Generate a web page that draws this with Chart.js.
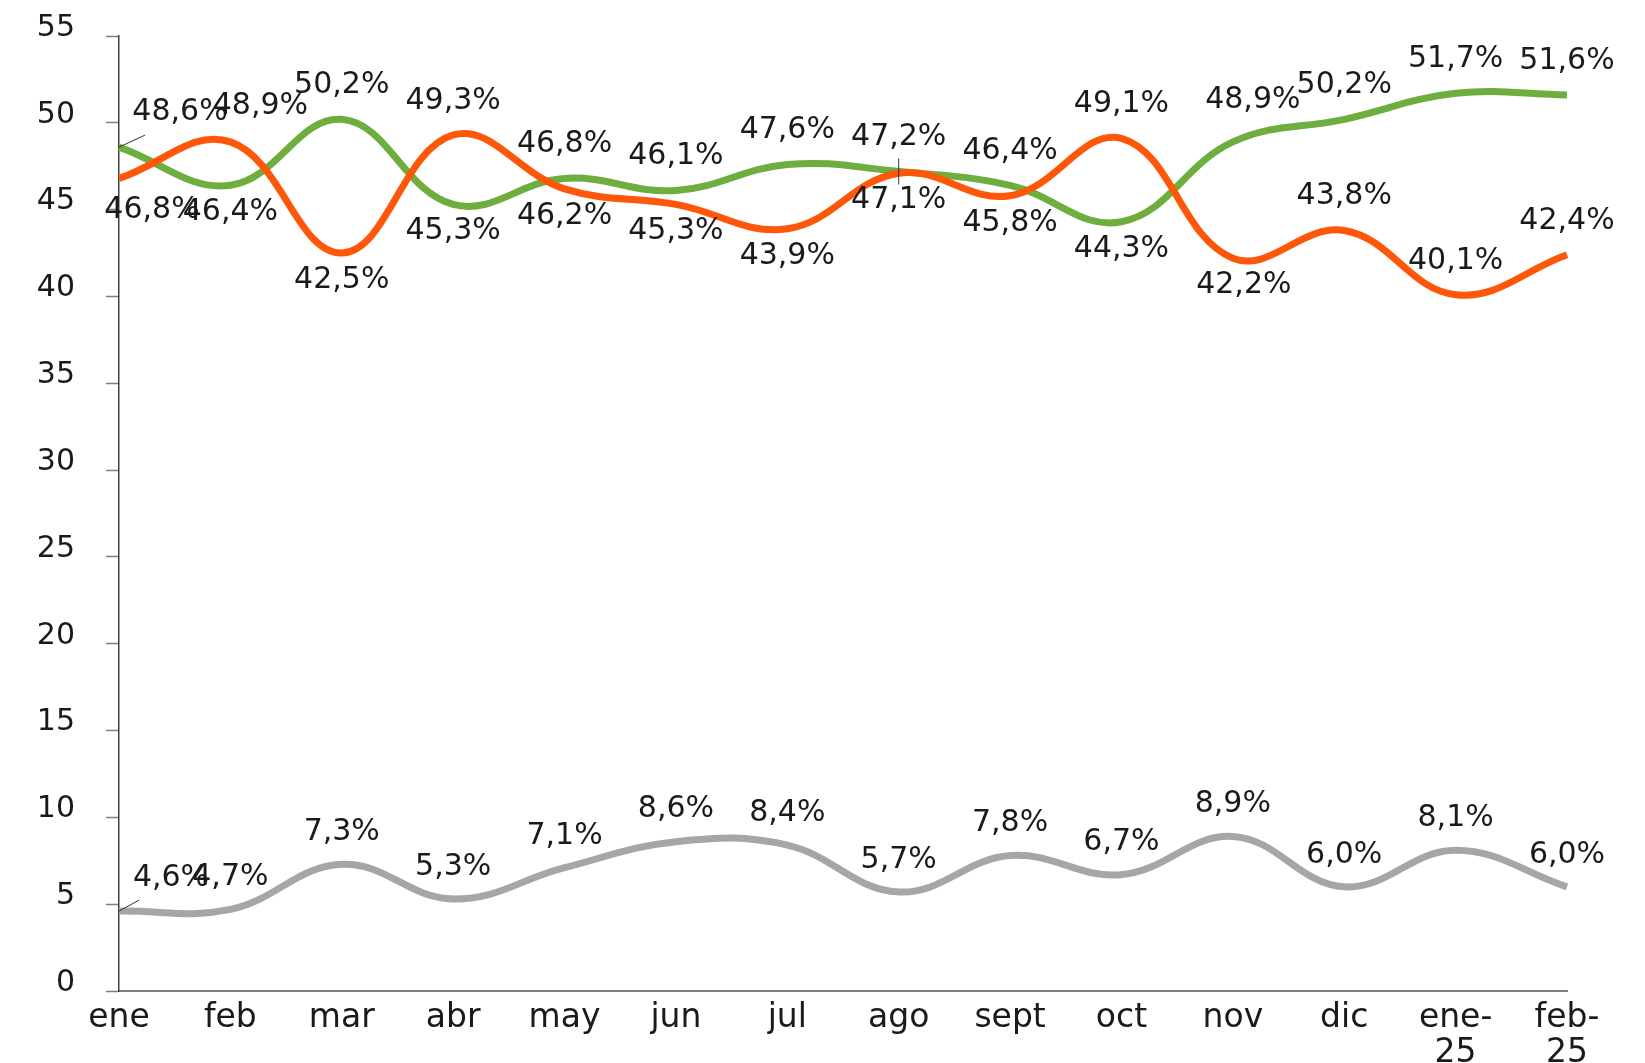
<!DOCTYPE html>
<html>
<head>
<meta charset="utf-8">
<script src="https://cdn.jsdelivr.net/npm/chart.js@4.4.1/dist/chart.umd.min.js"></script>
<style>
  html, body { margin: 0; padding: 0; background: #ffffff; }
  #wrap { width: 1645px; height: 1063px; }
</style>
</head>
<body>
<div id="wrap"><canvas id="c" width="1645" height="1063"></canvas></div>
<script>
// ---- data ----
const months = ['ene', 'feb', 'mar', 'abr', 'may', 'jun', 'jul', 'ago', 'sept', 'oct', 'nov', 'dic', ['ene-', '25'], ['feb-', '25']];
const greenSeries  = [48.6, 46.4, 50.2, 45.3, 46.8, 46.1, 47.6, 47.2, 46.4, 44.3, 48.9, 50.2, 51.7, 51.6];
const orangeSeries = [46.8, 48.9, 42.5, 49.3, 46.2, 45.3, 43.9, 47.1, 45.8, 49.1, 42.2, 43.8, 40.1, 42.4];
const graySeries   = [4.6, 4.7, 7.3, 5.3, 7.1, 8.6, 8.4, 5.7, 7.8, 6.7, 8.9, 6.0, 8.1, 6.0];
const yMin = 0, yMax = 55, yStep = 5;

// ---- label placement (style) ----
const UP = -34, DN = 27, GUP = -32;
const greenPlace  = [[61, -35], [0, DN], [0, UP], [0, DN], [0, UP], [0, UP], [0, UP], [0, UP], [0, UP], [0, DN], [20, -42], [0, UP], [0, UP], [0, UP]];
const orangePlace = [[33, 32], [30, -36], [0, DN], [0, UP], [0, DN], [0, DN], [0, DN], [0, DN], [0, DN], [0, UP], [11, DN], [0, UP], [0, UP], [0, UP]];
const grayPlace   = [[52, -33], [0, GUP], [0, GUP], [0, GUP], [0, GUP], [0, GUP], [0, GUP], [0, GUP], [0, GUP], [0, GUP], [0, GUP], [0, GUP], [0, GUP], [0, GUP]];

const FONT = '"DejaVu Sans", sans-serif';
const TEXT = '#1a1a1a';

function fmt(v) { return v.toFixed(1).replace('.', ',') + '%'; }

const labelPlugin = {
  id: 'valueLabels',
  afterDatasetsDraw(chart) {
    const ctx = chart.ctx;
    ctx.save();
    // leader lines
    ctx.strokeStyle = '#333333';
    ctx.lineWidth = 1;
    const g0 = chart.getDatasetMeta(1).data[0];
    ctx.beginPath(); ctx.moveTo(g0.x, g0.y); ctx.lineTo(g0.x + 26, g0.y - 12); ctx.stroke();
    const s0 = chart.getDatasetMeta(2).data[0];
    ctx.beginPath(); ctx.moveTo(s0.x, s0.y); ctx.lineTo(s0.x + 20, s0.y - 11); ctx.stroke();
    const ag = chart.getDatasetMeta(1).data[7];
    ctx.beginPath(); ctx.moveTo(ag.x, ag.y - 13); ctx.lineTo(ag.x, ag.y + 13); ctx.stroke();

    ctx.font = '30px ' + FONT;
    ctx.fillStyle = TEXT;
    ctx.textAlign = 'center';
    ctx.textBaseline = 'middle';
    chart.data.datasets.forEach((ds, di) => {
      const meta = chart.getDatasetMeta(di);
      meta.data.forEach((pt, i) => {
        const off = ds.labelPlace[i];
        ctx.fillText(fmt(ds.data[i]), pt.x + off[0], pt.y + off[1]);
      });
    });
    ctx.restore();
  }
};

new Chart(document.getElementById('c'), {
  type: 'line',
  data: {
    labels: months,
    datasets: [
      { label: 'orange', data: orangeSeries, borderColor: '#FE5709', labelPlace: orangePlace },
      { label: 'green', data: greenSeries, borderColor: '#6DAE3F', labelPlace: greenPlace },
      { label: 'gray', data: graySeries, borderColor: '#A6A6A6', labelPlace: grayPlace }
    ]
  },
  options: {
    responsive: false,
    devicePixelRatio: 1,
    animation: false,
    layout: { padding: { top: 36, right: 78, left: 0, bottom: 0 } },
    elements: {
      line: { borderWidth: 7, tension: 0.4, fill: false },
      point: { radius: 0, hoverRadius: 0 }
    },
    plugins: { legend: { display: false }, tooltip: { enabled: false } },
    scales: {
      x: {
        type: 'category',
        offset: false,
        grid: { display: true, drawOnChartArea: false, drawTicks: false },
        border: { display: true, color: '#7f7f7f', width: 2 },
        ticks: {
          autoSkip: false, maxRotation: 0, padding: 10, color: TEXT,
          font: { family: FONT, size: 33, lineHeight: 1.05 }
        },
        afterFit(s) { s.height = 72; s.paddingLeft = 0; s.paddingRight = 0; }
      },
      y: {
        min: yMin, max: yMax,
        grid: { display: true, drawOnChartArea: false, drawTicks: true, tickLength: 13, tickColor: '#7f7f7f', tickWidth: 1.5 },
        border: { display: true, color: '#404040', width: 1.5 },
        ticks: {
          stepSize: yStep, padding: 31, labelOffset: -8, color: TEXT,
          font: { family: FONT, size: 30 }
        },
        afterFit(s) { s.width = 119; s.paddingTop = 0; s.paddingBottom = 0; }
      }
    }
  },
  plugins: [labelPlugin]
});
</script>
</body>
</html>
